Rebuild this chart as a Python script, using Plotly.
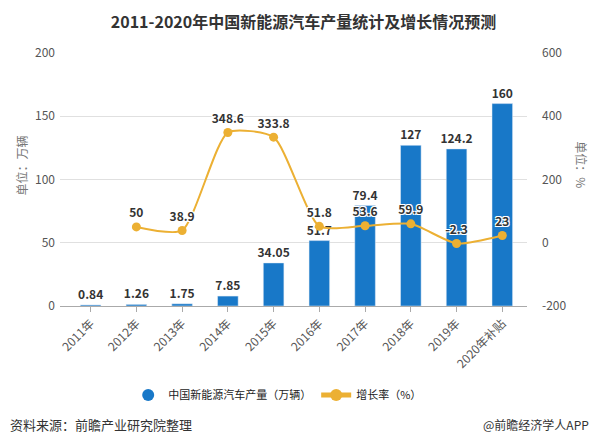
import plotly.graph_objects as go

categories = ["2011年", "2012年", "2013年", "2014年", "2015年", "2016年", "2017年", "2018年", "2019年", "2020年补贴"]
production = [0.84, 1.26, 1.75, 7.85, 34.05, 51.7, 79.4, 127, 124.2, 160]
growth = [None, 50, 38.9, 348.6, 333.8, 51.8, 53.6, 59.9, -2.3, 23]
growth_labels = ["", "50", "38.9", "348.6", "333.8", "51.8", "53.6", "59.9", "-2.3", "23"]
bar_labels = ["0.84", "1.26", "1.75", "7.85", "34.05", "51.7", "79.4", "127", "124.2", "160"]
right_ticks = [-200, 0, 200, 400, 600]
right_tick_text = ["-200", "0", "200", "400", "600"]

FONT = "Noto Sans CJK SC, Microsoft YaHei, sans-serif"
BLUE = "#1878c8"
GOLD = "#ecb033"
WHITE_OUTLINE = "-1px -1px 0 #fff, 1px -1px 0 #fff, -1px 1px 0 #fff, 1px 1px 0 #fff"

fig = go.Figure()
fig.add_trace(go.Bar(
    x=categories, y=production, name="中国新能源汽车产量（万辆）",
    marker=dict(color=BLUE), width=0.45,
    text=bar_labels, textposition="outside", constraintext="none",
    textfont=dict(size=12, color="#333", family=FONT, weight="bold"),
    cliponaxis=False, showlegend=False,
))
fig.add_trace(go.Scatter(
    x=[None], y=[None], mode="markers", name="中国新能源汽车产量（万辆）",
    marker=dict(color=BLUE, size=11, symbol="circle"),
))
fig.add_trace(go.Scatter(
    x=categories, y=growth, name="增长率（%）", yaxis="y2",
    mode="lines+markers+text",
    line=dict(color=GOLD, width=2, shape="spline", smoothing=0.6),
    marker=dict(color=GOLD, size=9),
    text=growth_labels, textposition="top center",
    textfont=dict(size=12, color="#333", family=FONT, weight="bold", shadow=WHITE_OUTLINE),
    cliponaxis=False, connectgaps=False,
))

fig.update_layout(
    width=591, height=440,
    margin=dict(l=52, r=72, t=45, b=142),
    paper_bgcolor="white", plot_bgcolor="white",
    font=dict(family=FONT, color="#555", size=12),
    title=dict(text="<b>2011-2020年中国新能源汽车产量统计及增长情况预测</b>",
               x=0.5, xanchor="center", y=0.968, yanchor="middle",
               font=dict(size=16, color="#333", family=FONT)),
    xaxis=dict(range=[-0.67, 9.54], tickangle=-45, showline=True, linecolor="#aaa",
               ticks="outside", ticklen=5, tickcolor="#aaa", showgrid=False,
               tickfont=dict(size=12, color="#555"), automargin=False),
    yaxis=dict(range=[0, 200], dtick=50, showgrid=True, gridcolor="#e0e0e0",
               zeroline=False, showline=False, tickfont=dict(size=12, color="#555"),
               ticklabelstandoff=4, automargin=False),
    yaxis2=dict(range=[-200, 600], tickvals=right_ticks, ticktext=right_tick_text,
                overlaying="y", side="right",
                showgrid=False, zeroline=False, showline=False,
                tickfont=dict(size=12, color="#555"), ticklabelstandoff=14,
                automargin=False),
    legend=dict(orientation="h", x=0.146, xanchor="left", y=-0.352, yanchor="middle",
                font=dict(size=11, color="#222"), itemsizing="constant"),
    bargap=0.5,
    annotations=[
        dict(text="单位：万辆", x=-0.105, y=0.557, xref="paper", yref="paper",
             textangle=-90, showarrow=False, font=dict(size=12, color="#777")),
        dict(text="单位：%", x=1.14, y=0.557, xref="paper", yref="paper",
             textangle=90, showarrow=False, font=dict(size=12, color="#777")),
        dict(text="资料来源：前瞻产业研究院整理", x=0, y=-0.47, xref="paper", yref="paper",
             xanchor="left", yanchor="middle", xshift=-52, showarrow=False,
             font=dict(size=13, color="#333")),
        dict(text="@前瞻经济学人APP", x=1, y=-0.47, xref="paper", yref="paper",
             xanchor="right", yanchor="middle", xshift=64, showarrow=False,
             font=dict(size=12, color="#333")),
    ],
)

fig.write_html("out.html")
